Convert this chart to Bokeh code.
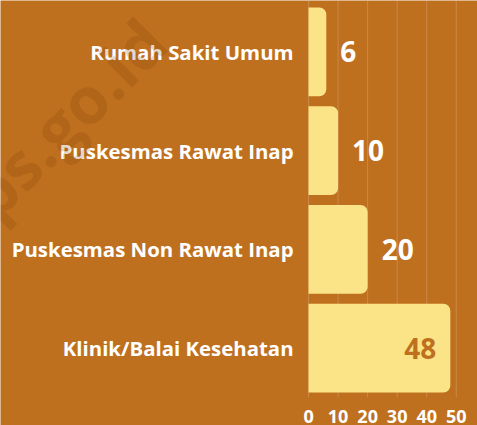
import math
from bokeh.plotting import figure
from bokeh.models import ColumnDataSource, Range1d, Label
from bokeh.core.properties import value
from bokeh.embed import file_html
from bokeh.resources import INLINE

# data (top to bottom)
categories = ["Rumah Sakit Umum", "Puskesmas Rawat Inap", "Puskesmas Non Rawat Inap", "Klinik/Balai Kesehatan"]
counts = [6, 10, 20, 48]
x_ticks = [0, 10, 20, 30, 40, 50]

BG = "#BF701F"
BAR = "#FBE488"
FONT = "Open Sans"

n = len(categories)
ypos = [n - 1 - i for i in range(n)]  # first category on top

y0, y1 = -0.784, 3.52
p = figure(width=477, height=425, output_backend="svg", toolbar_location=None,
           x_range=Range1d(-104.3, 57.2), y_range=Range1d(y0, y1),
           min_border_left=0, min_border_right=0, min_border_top=0, min_border_bottom=0)
p.background_fill_color = BG
p.border_fill_color = BG
p.outline_line_color = None
p.xaxis.visible = False
p.yaxis.visible = False
p.ygrid.grid_line_color = None
p.xgrid.grid_line_color = None

# light vertical grid lines at the tick values, spanning the bar area
p.segment(x0=x_ticks, x1=x_ticks, y0=[ypos[-1] - 0.5] * len(x_ticks), y1=[y1] * len(x_ticks),
          line_color="white", line_alpha=0.18, line_width=1)

src = ColumnDataSource(dict(y=ypos, cat=categories, val=counts, lab=[str(v) for v in counts]))
p.hbar(y="y", right="val", left=0, height=0.9, source=src, fill_color=BAR,
       line_color=None, border_radius=(0, 7, 7, 0))

# category labels left of the bars
p.text(x=0, y="y", text="cat", source=src, x_offset=-15, text_align="right",
       text_baseline="middle", text_color="white", text_font=value(FONT),
       text_font_size="20.4px", text_font_style="bold")

out_idx = [i for i, v in enumerate(counts) if v <= 30]
in_idx = [i for i, v in enumerate(counts) if v > 30]
src_out = ColumnDataSource(dict(y=[ypos[i] for i in out_idx], val=[counts[i] for i in out_idx],
                                lab=[str(counts[i]) for i in out_idx]))
src_in = ColumnDataSource(dict(y=[ypos[i] for i in in_idx], val=[counts[i] for i in in_idx],
                               lab=[str(counts[i]) for i in in_idx]))
p.text(x="val", y="y", text="lab", source=src_out, x_offset=14, text_align="left",
       text_baseline="middle", text_color="white", text_font=value(FONT),
       text_font_size="28px", text_font_style="bold")
p.text(x="val", y="y", text="lab", source=src_in, x_offset=-14, text_align="right",
       text_baseline="middle", text_color=BG, text_font=value(FONT),
       text_font_size="28px", text_font_style="bold")

# x tick labels along the bottom edge
p.text(x=x_ticks, y=[y0] * len(x_ticks), text=[str(t) for t in x_ticks], y_offset=-9,
       text_align="center", text_baseline="alphabetic", text_color="white",
       text_font=value(FONT), text_font_size="18px", text_font_style="bold")

wm = Label(x=51, y=293, x_units="screen", y_units="screen", text="bps.go.id",
           angle=math.pi / 4, text_align="center", text_baseline="middle",
           text_color="#7A3A00", text_alpha=0.2, text_font=FONT,
           text_font_size="65px", text_font_style="bold")
p.add_layout(wm)

open("out.html", "w").write(file_html(p, INLINE))
